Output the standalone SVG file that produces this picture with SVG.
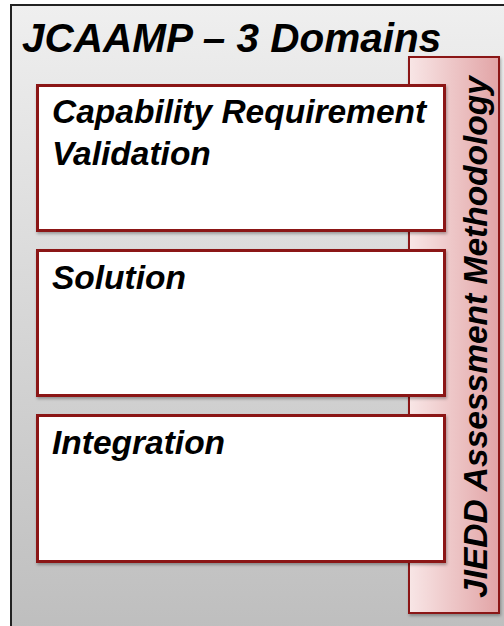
<svg xmlns="http://www.w3.org/2000/svg" width="504" height="626" viewBox="0 0 504 626">
<defs>
<linearGradient id="bg" x1="0" y1="0" x2="0" y2="1">
<stop offset="0" stop-color="#efefef"/>
<stop offset="1" stop-color="#bdbdbd"/>
</linearGradient>
<linearGradient id="pink" x1="0" y1="0" x2="1" y2="0">
<stop offset="0" stop-color="#f8e6e6"/>
<stop offset="1" stop-color="#e2a4a6"/>
</linearGradient>
<filter id="sh" x="-10%" y="-10%" width="120%" height="120%">
<feDropShadow dx="1" dy="2" stdDeviation="1.5" flood-color="#000" flood-opacity="0.3"/>
</filter>
<style>
.box{fill:#fff;stroke:#8b1212;stroke-width:3}
.lbl{font-family:"Liberation Sans",Arial,sans-serif;font-weight:bold;font-style:italic;fill:#000}
</style>
</defs>
<rect x="11" y="5" width="510" height="640" fill="url(#bg)" stroke="#222" stroke-width="2"/>
<g id="title"><text class="lbl" x="22" y="52" font-size="40.5">JCAAMP – 3 Domains</text></g>
<g id="methodology">
<rect x="409" y="57" width="90" height="556" fill="url(#pink)" stroke="#8b1212" stroke-width="2" filter="url(#sh)"/>
<text class="lbl" font-size="33.5" transform="translate(487,337) rotate(-90)" text-anchor="middle">JIEDD Assessment Methodology</text>
</g>
<g id="capability">
<rect class="box" x="37.5" y="85.5" width="407" height="145" filter="url(#sh)"/>
<text class="lbl" x="52" y="123" font-size="33.5">Capability Requirement</text>
<text class="lbl" x="52" y="165" font-size="33.5">Validation</text>
</g>
<g id="solution">
<rect class="box" x="37.5" y="250.5" width="407" height="145" filter="url(#sh)"/>
<text class="lbl" x="52" y="289" font-size="33.5">Solution</text>
</g>
<g id="integration">
<rect class="box" x="37.5" y="415.5" width="407" height="146" filter="url(#sh)"/>
<text class="lbl" x="52" y="454" font-size="33.5">Integration</text>
</g>
<g id="connectors"/>
</svg>
